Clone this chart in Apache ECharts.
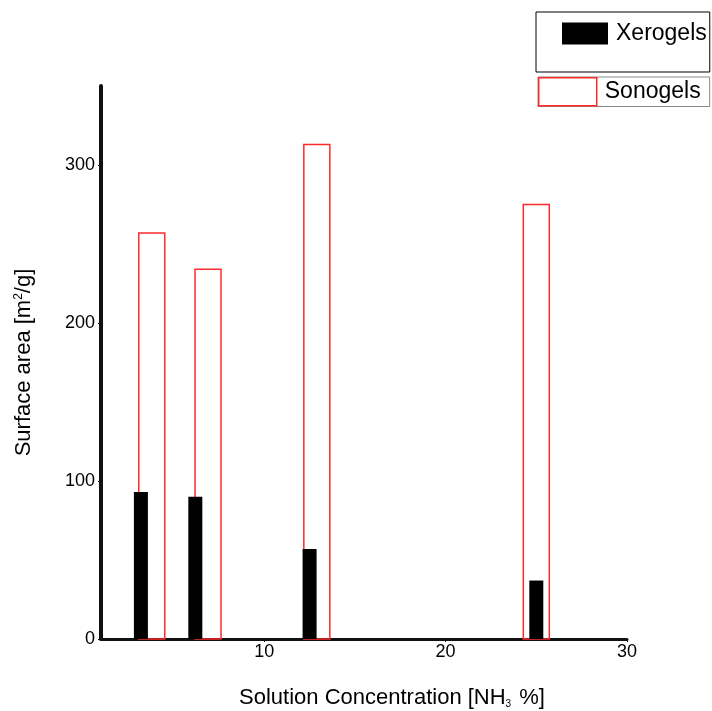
<!DOCTYPE html>
<html>
<head>
<meta charset="utf-8">
<title>Surface area vs. NH3 concentration</title>
<script src="https://cdn.jsdelivr.net/npm/echarts@6/dist/echarts.min.js"></script>
<style>
  html, body { margin: 0; padding: 0; background: #fff; }
  #chart { width: 712px; height: 711px; }
</style>
</head>
<body>
<div id="chart"></div>
<script>
// Surface area of xerogels and sonogels against ammonia concentration
const xeroConcentration = [3.2, 6.2, 12.5, 25.0];
const xeroArea = [93, 90, 57, 37];
const sonoConcentration = [3.8, 6.9, 12.9, 25.0];
const sonoArea = [257, 234, 313, 275];
const xTickValues = [10, 20, 30];
const yTickValues = [0, 100, 200, 300];

const FONT = '"Liberation Sans", Arial, sans-serif';
const RED = '#ff2a2a';

function rectBars(width, style) {
  return function (params, api) {
    const top = api.coord([api.value(0), api.value(1)]);
    const base = api.coord([api.value(0), 0]);
    return {
      type: 'rect',
      shape: { x: top[0] - width / 2, y: top[1], width: width, height: base[1] - top[1] },
      style: style
    };
  };
}

const chart = echarts.init(document.getElementById('chart'), null, { renderer: 'canvas' });

chart.setOption({
  animation: false,
  backgroundColor: '#fff',
  textStyle: { fontFamily: FONT, color: '#000' },
  grid: { left: 101, right: 85, top: 86, bottom: 72, containLabel: false, outerBoundsMode: 'none' },
  legend: [
    {
      data: [{ name: 'Xerogels', icon: 'rect', itemStyle: { color: '#000' } }],
      left: 536, top: 12,
      itemWidth: 46, itemHeight: 22,
      padding: [10, 3, 27, 26],
      borderColor: '#000', borderWidth: 1,
      selectedMode: false,
      textStyle: { fontSize: 23, color: '#000', fontFamily: FONT, padding: [0, 0, 0, 3] }
    },
    {
      data: [{ name: 'Sonogels', icon: 'rect',
               itemStyle: { color: 'rgba(0,0,0,0)', borderColor: RED, borderWidth: 1.5 } }],
      left: 538, top: 77,
      itemWidth: 58, itemHeight: 28,
      padding: [0, 9, 0, 0],
      borderColor: '#888', borderWidth: 1,
      selectedMode: false,
      textStyle: { fontSize: 23, color: '#000', fontFamily: FONT, padding: [0, 0, 0, 3] }
    }
  ],
  xAxis: {
    type: 'value',
    min: 1, max: 30,
    name: 'Solution Concentration [NH{sub|3} %]',
    nameLocation: 'middle',
    nameGap: 48,
    nameTextStyle: {
      fontSize: 22, color: '#000', fontFamily: FONT,
      padding: [0, 0, 0, 56],
      rich: { sub: { fontSize: 10, verticalAlign: 'bottom', lineHeight: 10, padding: [0, 2, 0, 0] } }
    },
    axisLine: { show: true, onZero: false, lineStyle: { color: '#111', width: 3 } },
    axisTick: { show: true, length: 3, customValues: xTickValues, lineStyle: { color: '#111' } },
    axisLabel: { customValues: xTickValues, fontSize: 18, color: '#000', margin: 4, fontFamily: FONT },
    splitLine: { show: false }
  },
  yAxis: {
    type: 'value',
    min: 0, max: 350,
    name: 'Surface area [m{sup|2}/g]',
    nameLocation: 'middle',
    nameRotate: 90,
    nameGap: 66,
    nameTextStyle: {
      fontSize: 22, color: '#000', fontFamily: FONT,
      rich: { sup: { fontSize: 12, verticalAlign: 'top', lineHeight: 12 } }
    },
    axisLine: { show: true, lineStyle: { color: '#111', width: 4 } },
    axisTick: { show: true, length: 3, customValues: yTickValues, lineStyle: { color: '#111' } },
    axisLabel: { customValues: yTickValues, fontSize: 18, color: '#000', margin: 6, fontFamily: FONT },
    splitLine: { show: false }
  },
  series: [
    {
      name: 'Sonogels',
      type: 'custom',
      itemStyle: { color: 'rgba(0,0,0,0)', borderColor: RED, borderWidth: 1.5 },
      renderItem: rectBars(26, { fill: 'none', stroke: RED, lineWidth: 1.5 }),
      encode: { x: 0, y: 1 },
      data: sonoConcentration.map((c, i) => [c, sonoArea[i]]),
      z: 2
    },
    {
      name: 'Xerogels',
      type: 'custom',
      itemStyle: { color: '#000' },
      renderItem: rectBars(14, { fill: '#000' }),
      encode: { x: 0, y: 1 },
      data: xeroConcentration.map((c, i) => [c, xeroArea[i]]),
      z: 3
    }
  ]
});
</script>
</body>
</html>
